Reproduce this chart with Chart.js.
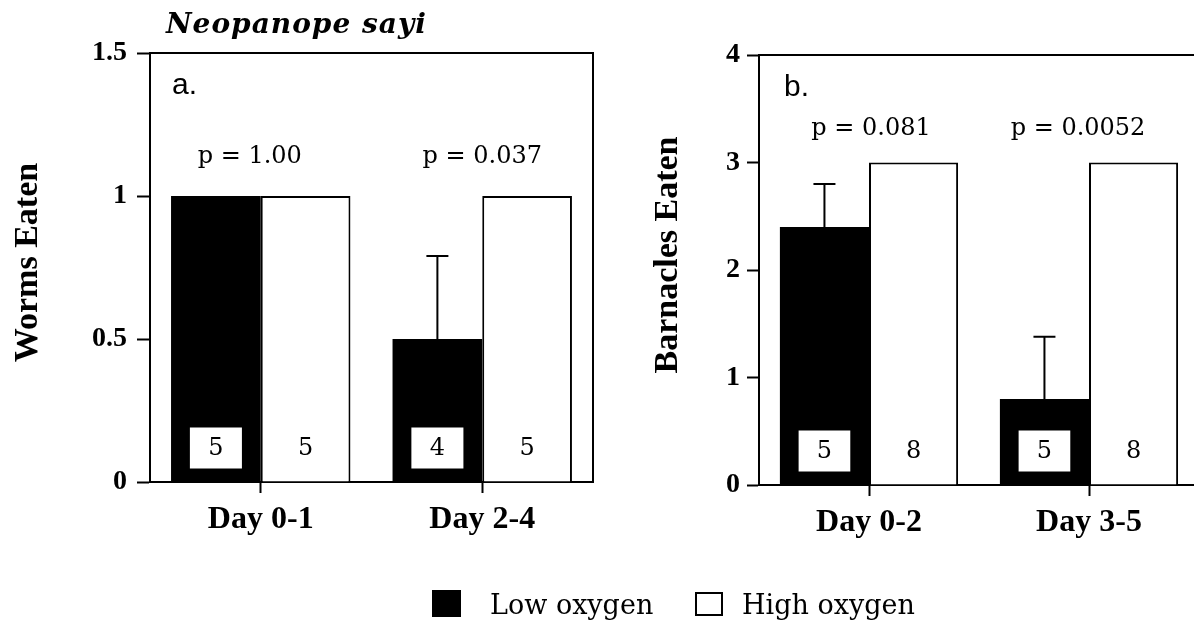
<!DOCTYPE html>
<html>
<head>
<meta charset="utf-8">
<script src="https://cdn.jsdelivr.net/npm/chart.js@4.4.1/dist/chart.umd.min.js"></script>
<style>
  html, body { margin: 0; padding: 0; background: #fff; overflow: hidden; width: 1194px; height: 628px; }
  canvas { position: absolute; top: 0; }
  #panelA { left: 0; }
  #panelB { left: 600px; }
  .sw { position: absolute; box-sizing: border-box; }
  .sw.low { left: 432px; top: 590px; width: 29px; height: 27px; background: #000; }
  .sw.high { left: 695px; top: 592px; width: 28px; height: 24px; background: #fff; border: 2px solid #000; }
  .lt { position: absolute; top: 590px; font-family: "DejaVu Serif", serif; font-size: 27px; line-height: 30px; color: #000; white-space: nowrap; }
</style>
</head>
<body>
<canvas id="panelA" width="600" height="628"></canvas>
<canvas id="panelB" width="600" height="628"></canvas>
<div class="sw low"></div><div class="lt" style="left:490px">Low oxygen</div>
<div class="sw high"></div><div class="lt" style="left:742px">High oxygen</div>

<script>
// Panel a: worms eaten
const wormDays = ['Day 0-1', 'Day 2-4'];
const wormLow = [1.0, 0.5];
const wormHigh = [1.0, 1.0];
const wormLowErr = [0, 0.29];
const wormLowN = [5, 4];
const wormHighN = [5, 5];
const wormP = ['p = 1.00', 'p = 0.037'];
const wormTicks = [0, 0.5, 1, 1.5];

// Panel b: barnacles eaten
const barnDays = ['Day 0-2', 'Day 3-5'];
const barnLow = [2.4, 0.8];
const barnHigh = [3, 3];
const barnLowErr = [0.4, 0.58];
const barnLowN = [5, 5];
const barnHighN = [8, 8];
const barnP = ['p = 0.081', 'p = 0.0052'];
const barnTicks = [0, 1, 2, 3, 4];

const seriesNames = ['Low oxygen', 'High oxygen'];

const BOLD = 'Liberation Serif';
const BOOK = 'DejaVu Serif';

// Frame, axis title, error bars, sample sizes, p-values and panel letters
const panelDecor = {
  id: 'panelDecor',
  afterDatasetsDraw(chart, args, o) {
    const ctx = chart.ctx;
    const area = chart.chartArea;
    const xs = chart.scales.x, ys = chart.scales.y;
    const low = chart.getDatasetMeta(0), high = chart.getDatasetMeta(1);
    ctx.save();
    ctx.strokeStyle = '#000';
    ctx.fillStyle = '#000';
    ctx.lineWidth = 2;

    // top and right sides of the box
    ctx.beginPath();
    ctx.moveTo(area.left, area.top);
    ctx.lineTo(area.right, area.top);
    ctx.lineTo(area.right, area.bottom);
    ctx.stroke();

    // rotated y-axis title
    ctx.save();
    ctx.translate(ys.left + o.titleX, (area.top + area.bottom) / 2 + o.titleDy);
    ctx.rotate(-Math.PI / 2);
    ctx.font = 'bold 34px "' + BOLD + '"';
    ctx.textAlign = 'center';
    ctx.textBaseline = 'middle';
    ctx.fillText(o.yTitle, 0, 0);
    ctx.restore();

    // upward error bars on low-oxygen bars
    o.err.forEach((e, i) => {
      if (!e) return;
      const b = low.data[i];
      const yTop = ys.getPixelForValue(o.low[i] + e);
      ctx.beginPath();
      ctx.moveTo(b.x, b.y);
      ctx.lineTo(b.x, yTop);
      ctx.moveTo(b.x - 11, yTop);
      ctx.lineTo(b.x + 11, yTop);
      ctx.stroke();
    });

    // sample sizes near the base of each bar
    ctx.font = '24px "' + BOOK + '"';
    ctx.textAlign = 'center';
    ctx.textBaseline = 'middle';
    const nY = ys.bottom - 34;
    low.data.forEach((b, i) => {
      const w = b.width * 0.58;
      ctx.fillStyle = '#fff';
      ctx.fillRect(b.x - w / 2, nY - 20.5, w, 41);
      ctx.fillStyle = '#000';
      ctx.fillText(String(o.nLow[i]), b.x, nY + 1);
    });
    high.data.forEach((b, i) => {
      ctx.fillText(String(o.nHigh[i]), b.x, nY + 1);
    });

    // p-values above each day
    ctx.textBaseline = 'alphabetic';
    o.p.forEach((t, i) => {
      ctx.fillText(t, xs.getPixelForValue(i) + o.pDx[i], ys.getPixelForValue(o.pY));
    });

    // panel letter
    ctx.font = '30px "Liberation Sans"';
    ctx.textAlign = 'left';
    ctx.fillText(o.letter, area.left + o.letterDx, area.top + 41);

    // species name
    if (o.species) {
      ctx.font = 'italic bold 28px "' + BOOK + '"';
      ctx.letterSpacing = '1px';
      ctx.fillText(o.species, area.left + 16, area.top - 20);
    }
    ctx.restore();
  }
};

function makePanel(id, cfg) {
  const tickFont = { family: BOLD, weight: 'bold', size: 28 };
  return new Chart(document.getElementById(id), {
    type: 'bar',
    data: {
      labels: cfg.days,
      datasets: [
        { label: seriesNames[0], data: cfg.low, backgroundColor: '#000', borderColor: '#000', borderWidth: 0 },
        { label: seriesNames[1], data: cfg.high, backgroundColor: '#fff', borderColor: '#000', borderWidth: 2 }
      ]
    },
    options: {
      responsive: false,
      devicePixelRatio: 1,
      animation: false,
      datasets: { bar: { categoryPercentage: 0.81, barPercentage: 1.0 } },
      layout: { padding: { top: cfg.padTop, right: cfg.padRight, left: 0, bottom: 0 } },
      plugins: {
        legend: { display: false },
        tooltip: { enabled: false },
        panelDecor: {
          low: cfg.low, err: cfg.err, nLow: cfg.nLow, nHigh: cfg.nHigh,
          p: cfg.p, pY: cfg.pY, pDx: cfg.pDx, letter: cfg.letter, letterDx: cfg.letterDx,
          species: cfg.species, yTitle: cfg.yTitle, titleX: cfg.titleX, titleDy: cfg.titleDy
        }
      },
      scales: {
        x: {
          offset: true,
          ticks: { color: '#000', font: { family: BOLD, weight: 'bold', size: 32 }, padding: 8 },
          grid: { offset: false, drawOnChartArea: false, drawTicks: true, tickLength: 11, tickWidth: 2, tickColor: '#000' },
          border: { display: true, color: '#000', width: 2 },
          afterFit: s => { s.height = cfg.xHeight; }
        },
        y: {
          min: cfg.ticks[0],
          max: cfg.ticks[cfg.ticks.length - 1],
          afterBuildTicks: s => { s.ticks = cfg.ticks.map(v => ({ value: v })); },
          ticks: { color: '#000', font: tickFont, padding: cfg.tickPad, callback: v => String(v) },
          grid: { drawOnChartArea: false, drawTicks: true, tickLength: cfg.tickLen, tickWidth: 2, tickColor: '#000' },
          border: { display: true, color: '#000', width: 2 },
          title: { display: false },
          afterFit: s => { s.width = cfg.yWidth; }
        }
      }
    },
    plugins: [panelDecor]
  });
}

makePanel('panelA', {
  days: wormDays, low: wormLow, high: wormHigh, err: wormLowErr,
  nLow: wormLowN, nHigh: wormHighN, p: wormP, pY: 1.115, pDx: [-11, 0], ticks: wormTicks,
  yTitle: 'Worms Eaten', titleX: 28, titleDy: -5,
  letter: 'a.', letterDx: 22, species: 'Neopanope sayi',
  padTop: 53, padRight: 7, xHeight: 146, yWidth: 150, tickLen: 13, tickPad: 10
});

makePanel('panelB', {
  days: barnDays, low: barnLow, high: barnHigh, err: barnLowErr,
  nLow: barnLowN, nHigh: barnHighN, p: barnP, pY: 3.26, pDx: [2, -11], ticks: barnTicks,
  yTitle: 'Barnacles Eaten', titleX: 68, titleDy: -15,
  letter: 'b.', letterDx: 25, species: null,
  padTop: 55, padRight: 1, xHeight: 143, yWidth: 159, tickLen: 12, tickPad: 7
});
</script>
</body>
</html>
